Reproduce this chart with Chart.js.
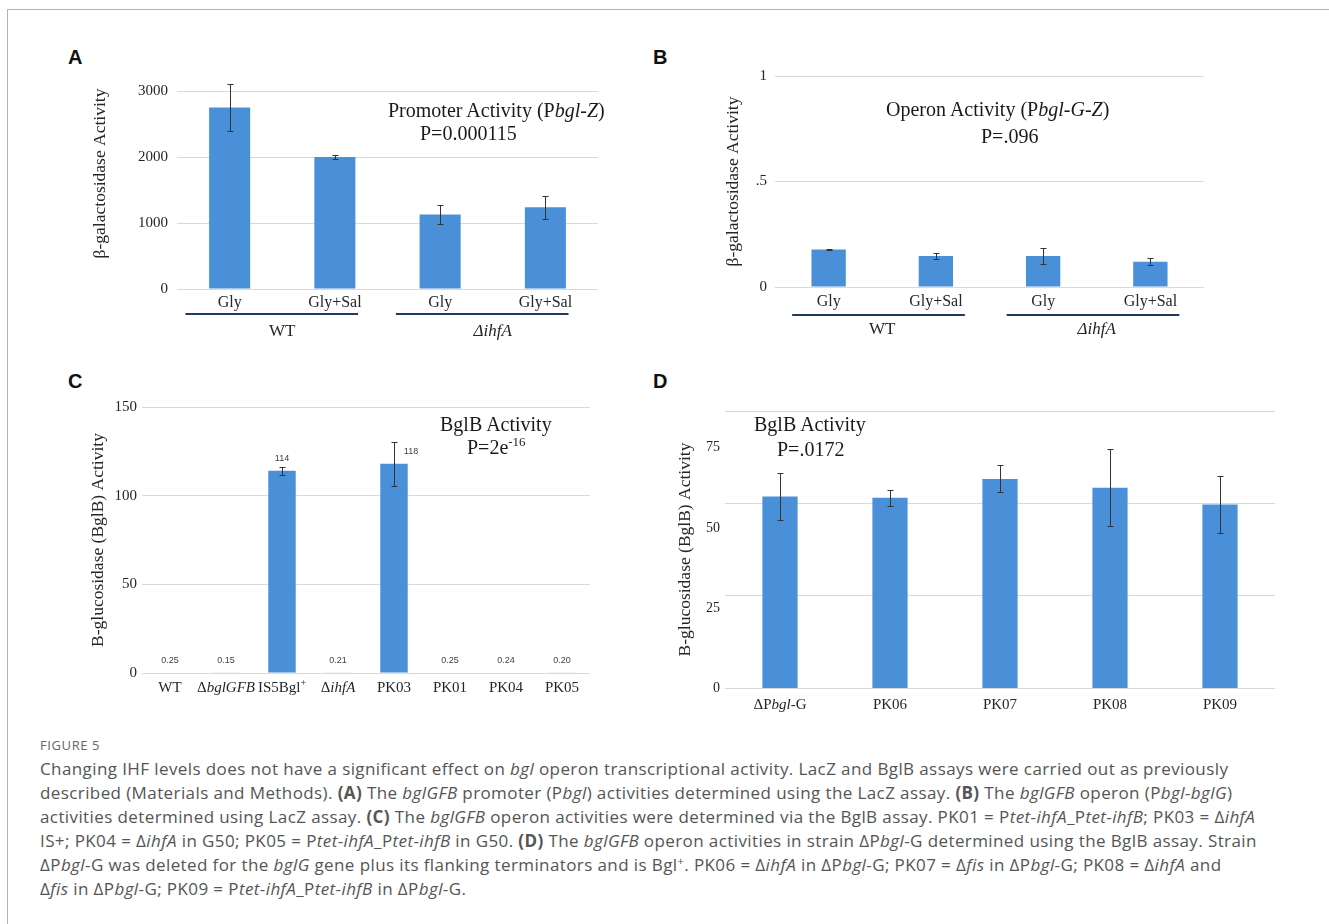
<!DOCTYPE html>
<html lang="en">
<head>
<meta charset="UTF-8">
<title>Figure 5 - bgl operon activity</title>
<script src="https://cdn.jsdelivr.net/npm/chart.js"></script>
<style>
  body { margin: 0; background: #fff; width: 1329px; height: 924px; overflow: hidden; position: relative; font-family: 'Liberation Serif', 'Times New Roman', serif; }
  .frame { position: absolute; left: 7px; top: 9px; width: 1400px; height: 1000px; border-top: 1.5px solid #b3b3b3; border-left: 1.5px solid #b3b3b3; }
  canvas { position: absolute; }
  .letter { position: absolute; font: bold 20px 'Liberation Sans', Arial, sans-serif; line-height: 20px; color: #111; }
  .note { position: absolute; font-size: 20px; line-height: 22px; color: #1a1a1a; white-space: nowrap; }
  .note sup { font-size: 13px; line-height: 0; }
  .fig { position: absolute; left: 40px; top: 737px; font: 13px 'Open Sans', sans-serif; line-height: 16px; color: #666; letter-spacing: 0.6px; }
  .caption { position: absolute; left: 40px; top: 757px; font: 17px 'Open Sans', sans-serif; line-height: 24px; color: #555; letter-spacing: 0.4px; }
  .caption div { white-space: nowrap; height: 24px; }
  .caption sup { font-size: 11px; line-height: 0; vertical-align: 6px; }
</style>
</head>
<body>
<div class="frame"></div>

<div class="letter" style="left:68px; top:47px;">A</div>
<div class="letter" style="left:653px; top:47px;">B</div>
<div class="letter" style="left:68px; top:371px;">C</div>
<div class="letter" style="left:653px; top:371px;">D</div>

<canvas id="chartA" width="560" height="320" style="left:60px; top:40px;"></canvas>
<canvas id="chartB" width="600" height="320" style="left:640px; top:40px;"></canvas>
<canvas id="chartC" width="560" height="350" style="left:60px; top:365px;"></canvas>
<canvas id="chartD" width="650" height="355" style="left:640px; top:365px;"></canvas>

<!-- in-plot annotations -->
<div class="note" style="left:388px; top:99px;">Promoter Activity (P<i>bgl</i>-<i>Z</i>)</div>
<div class="note" style="left:420px; top:122px;">P=0.000115</div>
<div class="note" style="left:886px; top:98px;">Operon Activity (P<i>bgl</i>-<i>G</i>-<i>Z</i>)</div>
<div class="note" style="left:981px; top:125px;">P=.096</div>
<div class="note" style="left:440px; top:413px;">BglB Activity</div>
<div class="note" style="left:467px; top:436px;">P=2e<sup>-16</sup></div>
<div class="note" style="left:754px; top:413px;">BglB Activity</div>
<div class="note" style="left:777px; top:438px;">P=.0172</div>

<div class="fig">FIGURE 5</div>
<div class="caption">
  <div>Changing IHF levels does not have a significant effect on <i>bgl</i> operon transcriptional activity. LacZ and BglB assays were carried out as previously</div>
  <div>described (Materials and Methods). <b>(A)</b> The <i>bglGFB</i> promoter (P<i>bgl</i>) activities determined using the LacZ assay. <b>(B)</b> The <i>bglGFB</i> operon (P<i>bgl</i>-<i>bglG</i>)</div>
  <div>activities determined using LacZ assay. <b>(C)</b> The <i>bglGFB</i> operon activities were determined via the BglB assay. PK01 = P<i>tet</i>-<i>ihfA</i>_P<i>tet</i>-<i>ihfB</i>; PK03 = Δ<i>ihfA</i></div>
  <div>IS+; PK04 = Δ<i>ihfA</i> in G50; PK05 = P<i>tet</i>-<i>ihfA</i>_P<i>tet</i>-<i>ihfB</i> in G50. <b>(D)</b> The <i>bglGFB</i> operon activities in strain ΔP<i>bgl</i>-G determined using the BglB assay. Strain</div>
  <div>ΔP<i>bgl</i>-G was deleted for the <i>bglG</i> gene plus its flanking terminators and is Bgl<sup>+</sup>. PK06 = Δ<i>ihfA</i> in ΔP<i>bgl</i>-G; PK07 = Δ<i>fis</i> in ΔP<i>bgl</i>-G; PK08 = Δ<i>ihfA</i> and</div>
  <div>Δ<i>fis</i> in ΔP<i>bgl</i>-G; PK09 = P<i>tet</i>-<i>ihfA</i>_P<i>tet</i>-<i>ihfB</i> in ΔP<i>bgl</i>-G.</div>
</div>

<script>
// ---- data ----
// A: promoter activity (Pbgl-Z), LacZ assay
const condA = ['Gly', 'Gly+Sal', 'Gly', 'Gly+Sal'];
const groupNamesA = ['WT', '<i>ΔihfA</i>'];
const groupSpansA = [[0, 1], [2, 3]];
const promoterA = [2750, 2000, 1130, 1240];
const promoterErrA = [350, 35, 150, 175];
const ticksA = [0, 1000, 2000, 3000];

// B: operon activity (Pbgl-G-Z), LacZ assay
const condB = ['Gly', 'Gly+Sal', 'Gly', 'Gly+Sal'];
const groupNamesB = ['WT', '<i>ΔihfA</i>'];
const groupSpansB = [[0, 1], [2, 3]];
const operonB = [0.178, 0.147, 0.147, 0.12];
const operonErrB = [0.002, 0.012, 0.038, 0.018];
const ticksB = [0, 0.5, 1];
const tickLabelsB = ['0', '.5', '1'];

// C: BglB activity
const strainsC = ['WT', 'Δ<i>bglGFB</i>', 'IS5Bgl<sup>+</sup>', 'Δ<i>ihfA</i>', 'PK03', 'PK01', 'PK04', 'PK05'];
const bglbC = [0.25, 0.15, 114, 0.21, 118, 0.25, 0.24, 0.20];
const bglbErrC = [0, 0, 2.2, 0, 12.5, 0, 0, 0];
const ticksC = [0, 50, 100, 150];

// D: BglB activity in ΔPbgl-G background
const strainsD = ['ΔP<i>bgl</i>-G', 'PK06', 'PK07', 'PK08', 'PK09'];
const bglbD = [59.8, 59.4, 65.3, 62.5, 57.3];
const bglbErrD = [7.3, 2.5, 4.2, 12, 9];
const ticksD = [0, 25, 50, 75];
const gridD = [0, 25, 50, 75];   // gridlines in the original sit on their own spacing

const SERIF = "'Liberation Serif', 'Times New Roman', serif";
const BAR_BLUE = '#4a90d9';
const GRID = '#d9d9d9';
const INK = '#262626';

// draws a label with <i> / <sup> pieces, centred on cx
function drawRich(ctx, markup, cx, cy, size) {
    const parts = markup.split(/(<i>.*?<\/i>|<sup>.*?<\/sup>)/).filter(Boolean).map(p => {
        if (p.startsWith('<i>')) return { t: p.slice(3, -4), font: `italic ${size}px ${SERIF}`, dy: 0 };
        if (p.startsWith('<sup>')) return { t: p.slice(5, -6), font: `${Math.round(size * 0.65)}px ${SERIF}`, dy: -size * 0.3 };
        return { t: p, font: `${size}px ${SERIF}`, dy: 0 };
    });
    let w = 0;
    parts.forEach(p => { ctx.font = p.font; p.w = ctx.measureText(p.t).width; w += p.w; });
    let x = cx - w / 2;
    ctx.textAlign = 'left';
    ctx.textBaseline = 'middle';
    parts.forEach(p => { ctx.font = p.font; ctx.fillText(p.t, x, cy + p.dy); x += p.w; });
}

const errorBars = {
    id: 'errorBars',
    afterDatasetsDraw(chart, args, opts) {
        if (!opts.values) return;
        const ctx = chart.ctx;
        const ds = chart.data.datasets[0];
        const y = chart.scales[ds.yAxisID || 'y'];
        const cap = opts.cap || 3;
        ctx.save();
        ctx.strokeStyle = opts.color || '#333';
        ctx.lineWidth = 1;
        chart.getDatasetMeta(0).data.forEach((bar, i) => {
            const e = opts.values[i];
            if (!e) return;
            const v = ds.data[i];
            const x = Math.round(bar.x) + 0.5;
            const top = Math.round(y.getPixelForValue(v + e)) + 0.5;
            const bot = Math.round(y.getPixelForValue(v - e)) + 0.5;
            ctx.beginPath();
            ctx.moveTo(x, top); ctx.lineTo(x, bot);
            ctx.moveTo(x - cap, top); ctx.lineTo(x + cap, top);
            ctx.moveTo(x - cap, bot); ctx.lineTo(x + cap, bot);
            ctx.stroke();
        });
        ctx.restore();
    }
};

const barLabels = {
    id: 'barLabels',
    afterDatasetsDraw(chart, args, opts) {
        if (!opts.show) return;
        const ctx = chart.ctx;
        const ds = chart.data.datasets[0];
        const shift = opts.shift || {};
        ctx.save();
        ctx.font = "9px 'Liberation Sans', Arial, sans-serif";
        ctx.fillStyle = '#404040';
        ctx.textAlign = 'center';
        ctx.textBaseline = 'middle';
        chart.getDatasetMeta(0).data.forEach((bar, i) => {
            const v = ds.data[i];
            const txt = v >= 10 ? v.toFixed(0) : v.toFixed(2);
            ctx.fillText(txt, bar.x + (shift[i] || 0), bar.y - 12);
        });
        ctx.restore();
    }
};

// category labels with italics, drawn under the x axis
const richTicks = {
    id: 'richTicks',
    afterDraw(chart, args, opts) {
        if (!opts.labels) return;
        const ctx = chart.ctx;
        const x = chart.scales.x;
        ctx.save();
        ctx.fillStyle = INK;
        opts.labels.forEach((lab, i) => drawRich(ctx, lab, x.getPixelForValue(i), chart.chartArea.bottom + opts.dy, opts.size));
        ctx.restore();
    }
};

// second level of the x axis: underline + group name
const groupAxis = {
    id: 'groupAxis',
    afterDraw(chart, args, opts) {
        if (!opts.names) return;
        const ctx = chart.ctx;
        const x = chart.scales.x;
        const step = x.getPixelForValue(1) - x.getPixelForValue(0);
        const bottom = chart.chartArea.bottom;
        ctx.save();
        opts.spans.forEach((sp, g) => {
            const a = x.getPixelForValue(sp[0]) + opts.pad[0] * step;
            const b = x.getPixelForValue(sp[1]) + opts.pad[1] * step;
            ctx.strokeStyle = '#1f3a5c';
            ctx.lineWidth = 2;
            ctx.beginPath();
            ctx.moveTo(a, bottom + opts.lineDy);
            ctx.lineTo(b, bottom + opts.lineDy);
            ctx.stroke();
            ctx.fillStyle = INK;
            const mid = (x.getPixelForValue(sp[0]) + x.getPixelForValue(sp[1])) / 2;
            drawRich(ctx, opts.names[g], mid, bottom + opts.textDy, 17);
        });
        ctx.restore();
    }
};

Chart.register(errorBars, barLabels, richTicks, groupAxis);

function yTitle(text, pad) {
    return { display: true, text: text, color: INK, font: { family: SERIF, size: 17.5 }, padding: { top: pad } };
}

function baseOptions(pad) {
    return {
        responsive: false,
        animation: false,
        layout: { padding: pad },
        plugins: { legend: { display: false }, tooltip: { enabled: false } }
    };
}

// ---- A ----
const optA = baseOptions({ top: 15.7, right: 22 });
optA.plugins.errorBars = { values: promoterErrA, cap: 3 };
optA.plugins.groupAxis = { names: groupNamesA, spans: groupSpansA, pad: [-0.42, 0.22], lineDy: 25, textDy: 43 };
optA.scales = {
    x: {
        grid: { display: false, drawTicks: false }, border: { display: false },
        ticks: { color: INK, font: { family: SERIF, size: 16 }, padding: 4, maxRotation: 0 },
        afterFit: s => { s.height = 71; }
    },
    y: {
        min: 0, max: 3500,
        afterBuildTicks: s => { s.ticks = ticksA.map(v => ({ value: v })); },
        grid: { color: GRID, drawTicks: false }, border: { display: false },
        ticks: { color: INK, font: { family: SERIF, size: 15 }, padding: 9, callback: v => String(v) },
        title: yTitle('β-galactosidase Activity', 30),
        afterFit: s => { s.width = 117; }
    }
};
new Chart(document.getElementById('chartA'), {
    type: 'bar',
    data: { labels: condA, datasets: [{ data: promoterA, backgroundColor: BAR_BLUE, barPercentage: 0.39, categoryPercentage: 1 }] },
    options: optA
});

// ---- B ----
const optB = baseOptions({ top: 36, right: 36 });
optB.plugins.errorBars = { values: operonErrB, cap: 3 };
optB.plugins.groupAxis = { names: groupNamesB, spans: groupSpansB, pad: [-0.34, 0.27], lineDy: 28, textDy: 43 };
optB.scales = {
    x: {
        grid: { display: false, drawTicks: false }, border: { display: false },
        ticks: { color: INK, font: { family: SERIF, size: 16 }, padding: 5, maxRotation: 0 },
        afterFit: s => { s.height = 73; }
    },
    y: {
        min: 0, max: 1,
        afterBuildTicks: s => { s.ticks = ticksB.map(v => ({ value: v })); },
        grid: { color: GRID, drawTicks: false }, border: { display: false },
        ticks: { color: INK, font: { family: SERIF, size: 15 }, padding: 8, callback: (v, i) => tickLabelsB[i] },
        title: yTitle('β-galactosidase Activity', 83),
        afterFit: s => { s.width = 135; }
    }
};
new Chart(document.getElementById('chartB'), {
    type: 'bar',
    data: { labels: condB, datasets: [{ data: operonB, backgroundColor: BAR_BLUE, barPercentage: 0.32, categoryPercentage: 1 }] },
    options: optB
});

// ---- C ----
const optC = baseOptions({ top: 42, right: 30 });
optC.plugins.errorBars = { values: bglbErrC, cap: 3 };
optC.plugins.barLabels = { show: true, shift: { 4: 17 } };
optC.plugins.richTicks = { labels: strainsC, dy: 15, size: 15 };
optC.scales = {
    x: {
        grid: { display: false, drawTicks: false }, border: { display: false },
        ticks: { display: false },
        afterFit: s => { s.height = 42; }
    },
    y: {
        min: 0, max: 150,
        afterBuildTicks: s => { s.ticks = ticksC.map(v => ({ value: v })); },
        grid: { color: GRID, drawTicks: false }, border: { display: false },
        ticks: { color: INK, font: { family: SERIF, size: 15 }, padding: 5, callback: v => String(v) },
        title: yTitle('B-glucosidase (BglB) Activity', 28),
        afterFit: s => { s.width = 82; }
    }
};
new Chart(document.getElementById('chartC'), {
    type: 'bar',
    data: {
        labels: strainsC,
        datasets: [{
            data: bglbC, backgroundColor: BAR_BLUE, barPercentage: 0.49, categoryPercentage: 1,
            borderColor: '#3d5f85', borderWidth: c => (c.raw < 1 ? 1 : 0)
        }]
    },
    options: optC
});

// ---- D ----
const optD = baseOptions({ top: 46, right: 15 });
optD.plugins.errorBars = { values: bglbErrD, cap: 3 };
optD.plugins.richTicks = { labels: strainsD, dy: 17, size: 15 };
optD.scales = {
    x: {
        grid: { display: false, drawTicks: false }, border: { display: false },
        ticks: { display: false },
        afterFit: s => { s.height = 32; }
    },
    y: {
        min: 0, max: 86.5,
        afterBuildTicks: s => { s.ticks = ticksD.map(v => ({ value: v })); },
        grid: { display: false, drawTicks: false }, border: { display: false },
        ticks: { color: INK, font: { family: SERIF, size: 14 }, padding: 5, callback: v => String(v) },
        title: yTitle('B-glucosidase (BglB) Activity', 35),
        afterFit: s => { s.width = 85; }
    },
    yg: {
        position: 'left', min: 0, max: 75,
        afterBuildTicks: s => { s.ticks = gridD.map(v => ({ value: v })); },
        grid: { color: GRID, drawTicks: false }, border: { display: false },
        ticks: { display: false },
        afterFit: s => { s.width = 0; }
    }
};
new Chart(document.getElementById('chartD'), {
    type: 'bar',
    data: { labels: strainsD, datasets: [{ data: bglbD, backgroundColor: BAR_BLUE, barPercentage: 0.32, categoryPercentage: 1, yAxisID: 'y' }] },
    options: optD
});
</script>
</body>
</html>
